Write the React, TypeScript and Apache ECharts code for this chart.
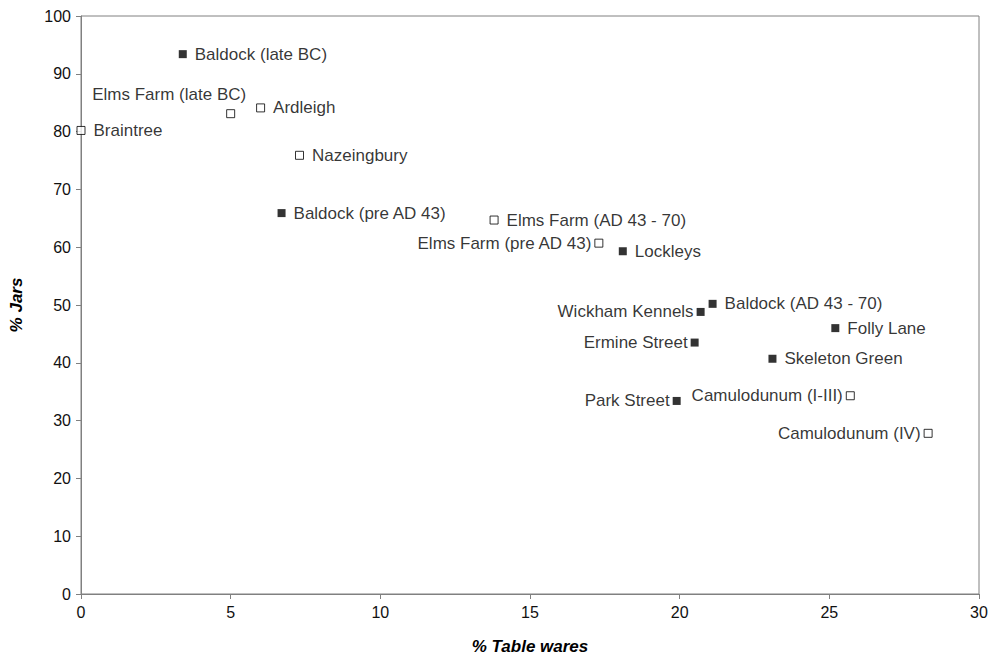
import React, { useEffect, useRef } from "react";
import * as echarts from "echarts";

const sites = [
  "Baldock (late BC)",
  "Elms Farm (late BC)",
  "Ardleigh",
  "Braintree",
  "Nazeingbury",
  "Baldock (pre AD 43)",
  "Elms Farm (AD 43 - 70)",
  "Elms Farm (pre AD 43)",
  "Lockleys",
  "Wickham Kennels",
  "Baldock (AD 43 - 70)",
  "Folly Lane",
  "Ermine Street",
  "Skeleton Green",
  "Park Street",
  "Camulodunum (I-III)",
  "Camulodunum (IV)",
];
const tableWares = [3.4, 5.0, 6.0, 0.0, 7.3, 6.7, 13.8, 17.3, 18.1, 20.7, 21.1, 25.2, 20.5, 23.1, 19.9, 25.7, 28.3];
const jars = [93.4, 83.1, 84.1, 80.2, 75.9, 65.9, 64.7, 60.7, 59.3, 48.8, 50.2, 46.0, 43.5, 40.7, 33.4, 34.3, 27.8];
const filled = [true, false, false, false, false, true, false, false, true, true, true, true, true, true, true, false, false];
const labelSide = ["right", "above", "right", "right", "right", "right", "right", "left", "right", "left", "right", "right", "left", "right", "left", "left", "left"];

const xTicks = [0, 5, 10, 15, 20, 25, 30];

function labelFor(side: string) {
  if (side === "left") return { position: "left", distance: 3 };
  if (side === "above")
    return { position: [20, -15], align: "right", verticalAlign: "middle" };
  return { position: "right", distance: 8 };
}

export default function App() {
  const ref = useRef<HTMLDivElement>(null);
  useEffect(() => {
    if (!ref.current) return;
    const chart = echarts.init(ref.current, undefined, { renderer: "svg" });
    const mk = (isFilled: boolean) =>
      sites
        .map((name, i) => ({ name, i }))
        .filter((d) => filled[d.i] === isFilled)
        .map((d) => ({
          name: d.name,
          value: [tableWares[d.i], jars[d.i]],
          label: labelFor(labelSide[d.i]),
        }));
    const font = "Liberation Sans, Arial, sans-serif";
    const nameStyle = { fontSize: 17, fontWeight: "bold", fontStyle: "italic", color: "#000", fontFamily: font };
    chart.setOption({
      animation: false,
      backgroundColor: "#fff",
      textStyle: { fontFamily: font },
      grid: {
        left: 79,
        right: 14,
        top: 16,
        bottom: 64,
        show: true,
        borderColor: "#808080",
        borderWidth: 1,
      },
      xAxis: {
        type: "value",
        min: xTicks[0],
        max: xTicks[xTicks.length - 1],
        interval: 5,
        name: "% Table wares",
        nameLocation: "middle",
        nameGap: 44,
        nameTextStyle: nameStyle,
        axisLine: { show: true, lineStyle: { color: "#808080", width: 1 } },
        axisTick: { show: true, length: 5, lineStyle: { color: "#808080" } },
        axisLabel: { fontSize: 16, color: "#111", margin: 10, fontFamily: font },
        splitLine: { show: false },
      },
      yAxis: {
        type: "value",
        min: 0,
        max: 100,
        interval: 10,
        name: "% Jars",
        nameLocation: "middle",
        nameGap: 56,
        nameTextStyle: nameStyle,
        axisLine: { show: true, lineStyle: { color: "#808080", width: 1 } },
        axisTick: { show: true, length: 5, lineStyle: { color: "#808080" } },
        axisLabel: { fontSize: 16, color: "#111", margin: 10, fontFamily: font },
        splitLine: { show: false },
      },
      series: [
        {
          type: "scatter",
          symbol: "rect",
          symbolSize: 8,
          itemStyle: { color: "#000" },
          label: { show: true, formatter: "{b}", fontSize: 17, color: "#000", fontFamily: font },
          data: mk(true),
        },
        {
          type: "scatter",
          symbol: "rect",
          symbolSize: 8,
          itemStyle: { color: "#fff", borderColor: "#000", borderWidth: 1 },
          label: { show: true, formatter: "{b}", fontSize: 17, color: "#000", fontFamily: font },
          data: mk(false),
        },
      ],
    });
    return () => chart.dispose();
  }, []);
  return (
    <div
      ref={ref}
      style={{ position: "fixed", left: 0, top: 0, width: 993, height: 660 }}
    />
  );
}
